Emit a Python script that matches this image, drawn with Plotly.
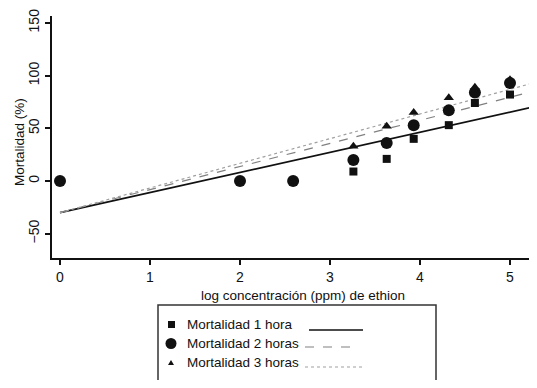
import plotly.graph_objects as go

# Data
log_conc = [0.0, 2.0, 2.59, 3.26, 3.63, 3.93, 4.32, 4.61, 5.0, 5.29]
mort_1h = [0, 0, 0, 9, 21, 40, 53, 74, 82, 89]
mort_2h = [0, 0, 0, 20, 36, 53, 67, 84, 93, 100]
mort_3h = [0, 0, 0, 33, 52, 65, 79, 89, 96, 100]

# fitted lines (start / end values)
fit_x = [0.0, 5.3]
fit_1h = [-30, 71]
fit_2h = [-30, 86]
fit_3h = [-30, 94]

legend_labels = ["Mortalidad 1 hora", "Mortalidad 2 horas", "Mortalidad 3 horas"]

OFF = 8  # default page body margin
W, H = 537 - OFF, 388 - 2 * OFF
L, R, T, B = 52 - OFF, 0, 16 - OFF, 130 - OFF
PW, PH = W - L - R, H - T - B
FONT = "Liberation Sans, Arial, sans-serif"
INK = "#111111"

def px(x):
    return (x - OFF - L) / PW

def py(y):
    return (H - B - (y - OFF)) / PH

fig = go.Figure()

fig.add_trace(go.Scatter(x=fit_x, y=fit_1h, mode="lines",
                         line=dict(color="#111111", width=1.8), showlegend=False))
fig.add_trace(go.Scatter(x=fit_x, y=fit_2h, mode="lines",
                         line=dict(color="#808080", width=1.2, dash="dash"), showlegend=False))
fig.add_trace(go.Scatter(x=fit_x, y=fit_3h, mode="lines",
                         line=dict(color="#a0a0a0", width=1.2, dash="dot"), showlegend=False))

fig.add_trace(go.Scatter(x=log_conc, y=mort_1h, mode="markers", cliponaxis=False,
                         marker=dict(symbol="square", size=8, color=INK), showlegend=False))
fig.add_trace(go.Scatter(x=log_conc, y=mort_2h, mode="markers", cliponaxis=False,
                         marker=dict(symbol="circle", size=12, color=INK), showlegend=False))
fig.add_trace(go.Scatter(x=log_conc, y=mort_3h, mode="markers", cliponaxis=False,
                         marker=dict(symbol="triangle-up", size=9, color=INK), showlegend=False))

shapes = []
annotations = []

# legend box
shapes.append(dict(type="rect", xref="paper", yref="paper",
                   x0=px(158), x1=px(436), y0=py(420), y1=py(305),
                   line=dict(color="#333333", width=1.5), fillcolor="rgba(0,0,0,0)"))

# legend markers
shapes.append(dict(type="rect", xref="paper", yref="paper",
                   x0=px(168), x1=px(175), y0=py(328), y1=py(321),
                   line=dict(width=0), fillcolor=INK))
shapes.append(dict(type="circle", xref="paper", yref="paper",
                   x0=px(165.5), x1=px(176.5), y0=py(349), y1=py(338),
                   line=dict(width=0), fillcolor=INK))
tx0, ty0 = 168, 365
shapes.append(dict(type="path", xref="paper", yref="paper",
                   path=f"M {px(tx0)} {py(ty0)} L {px(tx0+6)} {py(ty0)} L {px(tx0+3)} {py(ty0-5)} Z",
                   line=dict(width=0), fillcolor=INK))

# legend line samples
shapes.append(dict(type="line", xref="paper", yref="paper",
                   x0=px(309), x1=px(363), y0=py(330), y1=py(330),
                   line=dict(color="#111111", width=1.5)))
shapes.append(dict(type="line", xref="paper", yref="paper",
                   x0=px(305), x1=px(351), y0=py(347), y1=py(347),
                   line=dict(color="#808080", width=1.2, dash="dash")))
shapes.append(dict(type="line", xref="paper", yref="paper",
                   x0=px(305), x1=px(362), y0=py(367), y1=py(367),
                   line=dict(color="#a0a0a0", width=1.2, dash="dot")))

for label, yy in zip(legend_labels, [324, 343, 362]):
    annotations.append(dict(text=label, xref="paper", yref="paper",
                            x=px(185), y=py(yy), xanchor="left", yanchor="middle",
                            showarrow=False, font=dict(family=FONT, size=13.5, color=INK)))

# x-axis title
annotations.append(dict(text="log concentración (ppm) de ethion", xref="paper", yref="paper",
                        x=px(303), y=py(295), xanchor="center", yanchor="middle",
                        showarrow=False, font=dict(family=FONT, size=13.5, color=INK)))
# y-axis title
annotations.append(dict(text="Mortalidad (%)", xref="paper", yref="paper",
                        x=px(19), y=py(142), xanchor="center", yanchor="middle", textangle=-90,
                        showarrow=False, font=dict(family=FONT, size=13.5, color=INK)))

fig.update_layout(
    width=W, height=H,
    margin=dict(l=L, r=R, t=T, b=B, pad=0, autoexpand=False),
    paper_bgcolor="white", plot_bgcolor="white",
    shapes=shapes, annotations=annotations,
    showlegend=False,
    font=dict(family=FONT, size=14, color=INK),
)
fig.update_xaxes(range=[-0.089, 5.3], tickmode="array", tickvals=[0, 1, 2, 3, 4, 5],
                 ticks="outside", ticklen=5, tickwidth=1.5, tickcolor=INK, automargin=False,
                 showline=True, linecolor=INK, linewidth=2, showgrid=False, zeroline=False,
                 tickfont=dict(family=FONT, size=14, color=INK))
fig.update_yaxes(range=[-73, 156.5], tickmode="array", tickvals=[-50, 0, 50, 100, 150],
                 ticks="outside", ticklen=5, tickwidth=1.5, tickcolor=INK, tickangle=-90,
                 automargin=False,
                 showline=True, linecolor=INK, linewidth=2, showgrid=False, zeroline=False,
                 tickfont=dict(family=FONT, size=14, color=INK))

fig.write_html("out.html")
